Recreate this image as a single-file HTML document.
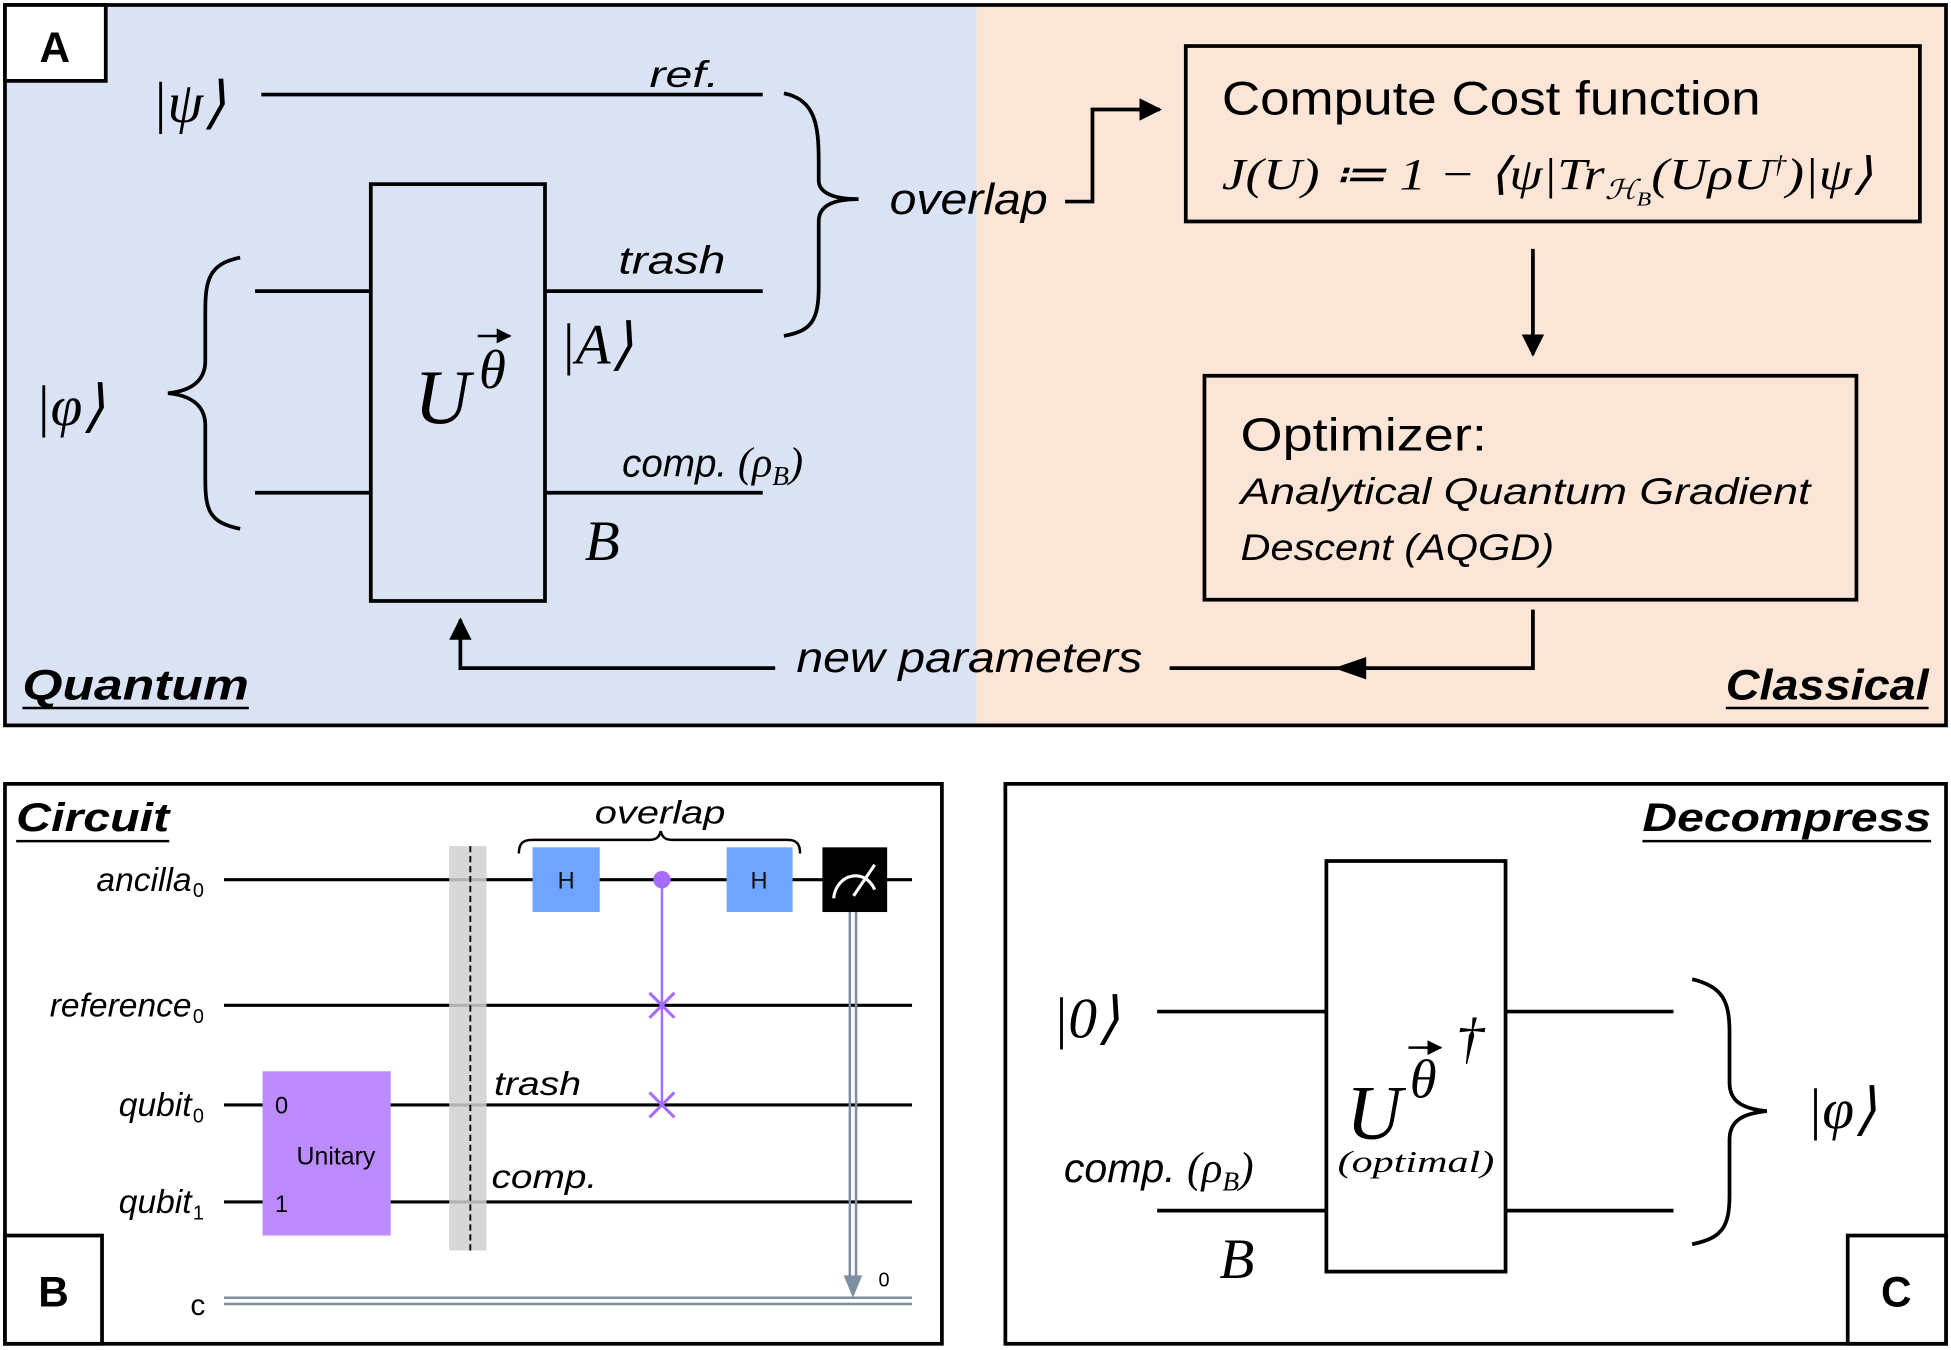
<!DOCTYPE html>
<html><head><meta charset="utf-8"><style>
html,body{margin:0;padding:0;background:#fff;}
svg{display:block;}
text{font-family:"Liberation Sans",sans-serif;}
.s{font-family:"Liberation Serif",serif;font-style:italic;}
.i{font-style:italic;}
</style></head><body>
<svg width="1951" height="1350" viewBox="0 0 1568 1085" preserveAspectRatio="none" xmlns="http://www.w3.org/2000/svg">
<defs>
<marker id="ah" viewBox="0 0 10 10" refX="9" refY="5" markerWidth="6" markerHeight="6" orient="auto"><path d="M0,0 L10,5 L0,10 z" fill="#000"/></marker>
</defs>
<!-- Panel A -->
<rect x="4" y="4" width="781" height="579" fill="#dae3f3"/>
<rect x="785" y="4" width="779" height="579" fill="#fbe5d6"/>
<rect x="4" y="4" width="1560" height="579" fill="none" stroke="#000" stroke-width="3"/>
<rect x="4" y="4" width="81" height="61" fill="#fff" stroke="#000" stroke-width="3"/>
<text x="44" y="50" font-size="34" font-weight="bold" text-anchor="middle">A</text>

<text x="122" y="98" class="s" font-size="46" font-style="normal">|<tspan font-style="italic">ψ</tspan>⟩</text>
<line x1="210" y1="76" x2="613" y2="76" stroke="#000" stroke-width="3"/>
<text x="522" y="70" class="i" font-size="30" textLength="56" lengthAdjust="spacingAndGlyphs">ref.</text>
<path d="M630,75 C655,80 658,100 658,130 L658,145 C658,155 670,160 690,160 C670,160 658,165 658,178 L658,230 C658,258 652,266 630,270" fill="none" stroke="#000" stroke-width="3"/>
<text x="715" y="172" class="i" font-size="35" textLength="127" lengthAdjust="spacingAndGlyphs">overlap</text>
<polyline points="856,162 878,162 878,88 932,88" fill="none" stroke="#000" stroke-width="3" marker-end="url(#ah)"/>

<rect x="953" y="37" width="590" height="141" fill="none" stroke="#000" stroke-width="3"/>
<text x="982" y="92" font-size="38" textLength="433" lengthAdjust="spacingAndGlyphs">Compute Cost function</text>
<text x="982" y="152" class="s" font-size="36" font-style="normal" textLength="523" lengthAdjust="spacingAndGlyphs"><tspan font-style="italic">J</tspan>(<tspan font-style="italic">U</tspan>) ≔ 1 − ⟨<tspan font-style="italic">ψ</tspan>|<tspan font-style="italic">Tr</tspan><tspan font-size="22" dy="8" font-style="italic">ℋ</tspan><tspan font-size="16" dy="5" font-style="italic">B</tspan><tspan dy="-13">(</tspan><tspan font-style="italic">UρU</tspan><tspan font-size="20" dy="-13">†</tspan><tspan dy="13">)|</tspan><tspan font-style="italic">ψ</tspan>⟩</text>
<line x1="1232" y1="200" x2="1232" y2="285" stroke="#000" stroke-width="3" marker-end="url(#ah)"/>

<rect x="968" y="302" width="524" height="180" fill="none" stroke="#000" stroke-width="3"/>
<text x="997" y="362" font-size="37" textLength="198" lengthAdjust="spacingAndGlyphs">Optimizer:</text>
<text x="997" y="405" class="i" font-size="30" textLength="458" lengthAdjust="spacingAndGlyphs">Analytical Quantum Gradient</text>
<text x="997" y="450" class="i" font-size="30" textLength="252" lengthAdjust="spacingAndGlyphs">Descent (AQGD)</text>
<polyline points="1232,490 1232,537 940,537" fill="none" stroke="#000" stroke-width="3"/>
<path d="M1072,537 L1098,528 L1098,546 z" fill="#000"/>
<text x="640" y="540" class="i" font-size="34" textLength="278" lengthAdjust="spacingAndGlyphs">new parameters</text>
<polyline points="623,537 370,537 370,498" fill="none" stroke="#000" stroke-width="3" marker-end="url(#ah)"/>

<rect x="298" y="148" width="140" height="335" fill="none" stroke="#000" stroke-width="3"/>
<text x="333" y="340" class="s" font-size="62">U</text>
<text x="385" y="312" class="s" font-size="44">θ</text>
<line x1="384" y1="270" x2="410" y2="270" stroke="#000" stroke-width="2" marker-end="url(#ah)"/>
<line x1="205" y1="234" x2="298" y2="234" stroke="#000" stroke-width="3"/>
<line x1="205" y1="396" x2="298" y2="396" stroke="#000" stroke-width="3"/>
<line x1="438" y1="234" x2="613" y2="234" stroke="#000" stroke-width="3"/>
<line x1="438" y1="396" x2="613" y2="396" stroke="#000" stroke-width="3"/>
<text x="497" y="220" class="i" font-size="31" textLength="86" lengthAdjust="spacingAndGlyphs">trash</text>
<text x="450" y="292" class="s" font-size="46" font-style="normal">|<tspan font-style="italic">A</tspan>⟩</text>
<text x="500" y="383" class="i" font-size="31">comp. <tspan class="s" font-style="normal" font-size="34">(<tspan font-style="italic">ρ</tspan><tspan font-size="22" dy="7" font-style="italic">B</tspan><tspan dy="-7">)</tspan></tspan></text>
<text x="470" y="450" class="s" font-size="46">B</text>
<path d="M193,207 C168,212 165,225 165,250 L165,290 C165,305 155,314 135,316 C155,318 165,327 165,342 L165,385 C165,410 168,420 193,425" fill="none" stroke="#000" stroke-width="3"/>
<text x="28" y="342" class="s" font-size="46" font-style="normal">|<tspan font-style="italic">φ</tspan>⟩</text>
<text x="18" y="562" class="i" font-weight="bold" font-size="34" textLength="182" lengthAdjust="spacingAndGlyphs">Quantum</text>
<line x1="18" y1="569" x2="200" y2="569" stroke="#000" stroke-width="2"/>
<text x="1387" y="562" class="i" font-weight="bold" font-size="34" textLength="163" lengthAdjust="spacingAndGlyphs">Classical</text>
<line x1="1387" y1="569" x2="1550" y2="569" stroke="#000" stroke-width="2"/>

<!-- Panel B -->
<rect x="4" y="630" width="753" height="450" fill="#fff" stroke="#000" stroke-width="3"/>
<text x="13" y="668" class="i" font-weight="bold" font-size="32" textLength="123" lengthAdjust="spacingAndGlyphs">Circuit</text>
<line x1="13" y1="676" x2="136" y2="676" stroke="#000" stroke-width="2"/>
<text x="478" y="662" class="i" font-size="26" textLength="105" lengthAdjust="spacingAndGlyphs">overlap</text>
<path d="M417,686 C417,678 420,675 428,675 L522,675 C528,675 530,672 531,668 C532,672 534,675 540,675 L633,675 C640,675 643,678 643,686" fill="none" stroke="#000" stroke-width="2"/>
<g stroke="#000" stroke-width="2.5">
<line x1="180" y1="707" x2="733" y2="707"/>
<line x1="180" y1="808" x2="733" y2="808"/>
<line x1="180" y1="888" x2="733" y2="888"/>
<line x1="180" y1="966" x2="733" y2="966"/>
</g>
<line x1="180" y1="1043" x2="733" y2="1043" stroke="#7d8fa0" stroke-width="2"/>
<line x1="180" y1="1048" x2="733" y2="1048" stroke="#7d8fa0" stroke-width="2"/>
<g class="i" font-size="27" text-anchor="end">
<text x="154" y="716">ancilla</text>
<text x="154" y="817">reference</text>
<text x="154" y="897">qubit</text>
<text x="154" y="975">qubit</text>
</g>
<g font-size="16">
<text x="155" y="721">0</text><text x="155" y="822">0</text><text x="155" y="902">0</text><text x="155" y="980">1</text>
</g>
<text x="165" y="1057" font-size="24" text-anchor="end">c</text>
<rect x="211" y="861" width="103" height="132" fill="#bb8bff"/>
<text x="221" y="895" font-size="19">0</text>
<text x="221" y="974" font-size="19">1</text>
<text x="270" y="936" font-size="20" text-anchor="middle">Unitary</text>
<rect x="361" y="680" width="30" height="325" fill="#d0d0d0" opacity="0.85"/>
<line x1="378" y1="680" x2="378" y2="1005" stroke="#000" stroke-width="1.5" stroke-dasharray="5,3"/>
<text x="397" y="880" class="i" font-size="27" textLength="70" lengthAdjust="spacingAndGlyphs">trash</text>
<text x="395" y="955" class="i" font-size="27" textLength="85" lengthAdjust="spacingAndGlyphs">comp.</text>
<rect x="428" y="681" width="54" height="52" fill="#6fa4ff"/>
<rect x="584" y="681" width="53" height="52" fill="#6fa4ff"/>
<text x="455" y="714" font-size="19" text-anchor="middle" fill="#111">H</text>
<text x="610" y="714" font-size="19" text-anchor="middle" fill="#111">H</text>
<line x1="532" y1="707" x2="532" y2="888" stroke="#a66cff" stroke-width="2"/>
<circle cx="532" cy="707" r="7" fill="#a66cff"/>
<g stroke="#a66cff" stroke-width="2.5">
<line x1="522" y1="798" x2="542" y2="818"/><line x1="542" y1="798" x2="522" y2="818"/>
<line x1="522" y1="878" x2="542" y2="898"/><line x1="542" y1="878" x2="522" y2="898"/>
</g>
<line x1="683" y1="733" x2="683" y2="1030" stroke="#7d8fa0" stroke-width="2"/>
<line x1="688" y1="733" x2="688" y2="1030" stroke="#7d8fa0" stroke-width="2"/>
<path d="M678,1025 L693,1025 L685.5,1043 z" fill="#7d8fa0"/>
<text x="706" y="1034" font-size="16">0</text>
<rect x="661" y="681" width="52" height="52" fill="#000"/>
<path d="M670,722 C672,702 695,697 703,715" fill="none" stroke="#fff" stroke-width="2.5"/>
<line x1="686" y1="720" x2="703" y2="695" stroke="#fff" stroke-width="2.5"/>
<rect x="4" y="993" width="78" height="87" fill="#fff" stroke="#000" stroke-width="3"/>
<text x="43" y="1050" font-size="34" font-weight="bold" text-anchor="middle">B</text>

<!-- Panel C -->
<rect x="808" y="630" width="756" height="450" fill="#fff" stroke="#000" stroke-width="3"/>
<text x="1320" y="668" class="i" font-weight="bold" font-size="32" textLength="232" lengthAdjust="spacingAndGlyphs">Decompress</text>
<line x1="1320" y1="676" x2="1552" y2="676" stroke="#000" stroke-width="2"/>
<rect x="1066" y="692" width="144" height="330" fill="none" stroke="#000" stroke-width="3"/>
<line x1="930" y1="813" x2="1066" y2="813" stroke="#000" stroke-width="3"/>
<line x1="930" y1="973" x2="1066" y2="973" stroke="#000" stroke-width="3"/>
<line x1="1210" y1="813" x2="1345" y2="813" stroke="#000" stroke-width="3"/>
<line x1="1210" y1="973" x2="1345" y2="973" stroke="#000" stroke-width="3"/>
<text x="846" y="834" class="s" font-size="46" font-style="normal">|0⟩</text>
<text x="855" y="950" class="i" font-size="33">comp. <tspan class="s" font-style="normal" font-size="35">(<tspan font-style="italic">ρ</tspan><tspan font-size="22" dy="7" font-style="italic">B</tspan><tspan dy="-7">)</tspan></tspan></text>
<text x="980" y="1027" class="s" font-size="46">B</text>
<text x="1082" y="915" class="s" font-size="62">U</text>
<text x="1133" y="882" class="s" font-size="44">θ</text>
<line x1="1132" y1="842" x2="1158" y2="842" stroke="#000" stroke-width="2" marker-end="url(#ah)"/>
<text x="1170" y="850" class="s" font-size="46" font-style="normal">†</text>
<text x="1138" y="942" class="s" font-size="25" text-anchor="middle" textLength="126" lengthAdjust="spacingAndGlyphs">(optimal)</text>
<path d="M1360,787 C1385,793 1390,805 1390,830 L1390,870 C1390,885 1400,891 1420,893 C1400,895 1390,901 1390,916 L1390,960 C1390,985 1385,995 1360,1000" fill="none" stroke="#000" stroke-width="3"/>
<text x="1452" y="907" class="s" font-size="46" font-style="normal">|<tspan font-style="italic">φ</tspan>⟩</text>
<rect x="1485" y="993" width="79" height="87" fill="#fff" stroke="#000" stroke-width="3"/>
<text x="1524" y="1050" font-size="34" font-weight="bold" text-anchor="middle">C</text>
</svg>
</body></html>
